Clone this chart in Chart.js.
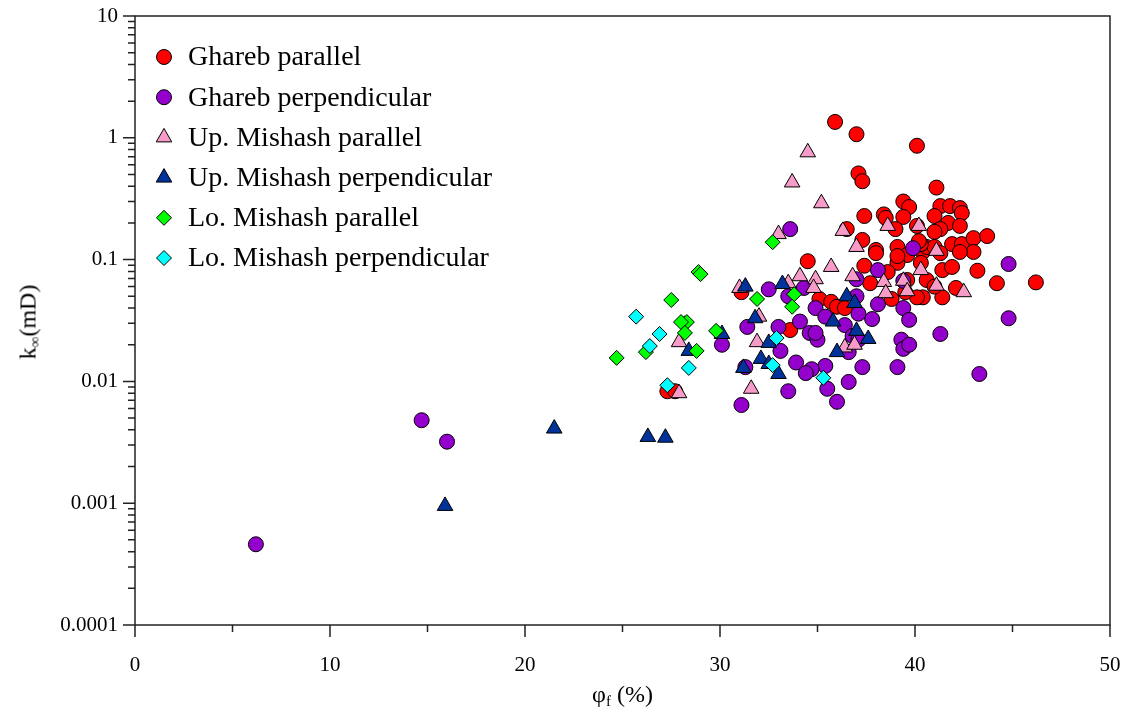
<!DOCTYPE html>
<html>
<head>
<meta charset="utf-8">
<title>Permeability vs fracture porosity</title>
<script src="https://cdn.jsdelivr.net/npm/chart.js@4.4.1/dist/chart.umd.min.js"></script>
<style>
  body { margin: 0; background: #fff; }
  #wrap { position: relative; width: 1129px; height: 717px; font-family: 'Liberation Serif', 'Times New Roman', serif; }
  .axis-title { position: absolute; font-size: 24px; color: #000; white-space: nowrap; line-height: 1; }
  .axis-title sub { font-size: 15px; vertical-align: -4px; }
  #x-title { left: 135px; width: 975px; top: 682px; text-align: center; }
  #y-title { left: 29px; top: 322px; transform: translate(-50%, -50%) rotate(-90deg); }
</style>
</head>
<body>
<div id="wrap">
  <canvas id="chart" width="1129" height="717"></canvas>
  <div class="axis-title" id="x-title">φ<sub>f</sub> (%)</div>
  <div class="axis-title" id="y-title">k<sub>∞</sub>(mD)</div>
</div>
<script>
// Axis ticks
const xTicks = [0, 10, 20, 30, 40, 50];
const xMinorTicks = [5, 15, 25, 35, 45];
const yTicks = [0.0001, 0.001, 0.01, 0.1, 1, 10];
const yTickLabels = ['0.0001', '0.001', '0.01', '0.1', '1', '10'];

// Measurements: [fracture porosity %, permeability mD]
const gharebParallel = [
    [35.9, 1.35], [37.0, 1.07], [40.1, 0.86], [37.1, 0.51], [37.3, 0.44], [41.1, 0.39],
    [39.4, 0.30], [39.7, 0.27], [39.4, 0.224], [37.4, 0.228], [38.4, 0.235], [38.5, 0.22],
    [41.3, 0.275], [41.8, 0.275], [42.3, 0.265], [42.4, 0.241], [41.0, 0.228], [41.7, 0.20],
    [42.3, 0.189], [41.3, 0.178], [41.0, 0.169], [36.5, 0.178], [39.0, 0.178], [40.1, 0.189],
    [37.3, 0.145], [38.0, 0.12], [38.0, 0.113], [39.1, 0.127], [39.6, 0.109], [39.1, 0.094],
    [40.4, 0.1155], [40.6, 0.127], [41.0, 0.127], [41.9, 0.134], [42.4, 0.134], [43.0, 0.150],
    [43.7, 0.156], [43.0, 0.1155], [42.3, 0.1155], [41.3, 0.113], [40.3, 0.094], [41.4, 0.082],
    [41.9, 0.087], [43.2, 0.081], [44.2, 0.064], [46.2, 0.065], [34.5, 0.097], [37.4, 0.089],
    [37.7, 0.064], [38.6, 0.079], [40.6, 0.068], [42.1, 0.0585], [41.4, 0.049], [40.4, 0.049],
    [40.1, 0.049], [38.8, 0.0475], [39.6, 0.068], [35.1, 0.0475], [35.7, 0.045], [36.0, 0.041],
    [36.4, 0.040], [33.6, 0.0264], [31.1, 0.054], [27.3, 0.0083], [27.7, 0.0083], [39.5, 0.054],
    [41.0, 0.060], [40.3, 0.134], [40.2, 0.142], [39.1, 0.107]
];
const gharebPerpendicular = [
    [6.2, 0.00046], [14.7, 0.0048], [16.0, 0.0032], [33.6, 0.178], [39.9, 0.124], [38.1, 0.082],
    [37.0, 0.069], [39.4, 0.067], [44.8, 0.092], [44.8, 0.033], [43.3, 0.0115], [39.4, 0.040],
    [39.7, 0.032], [38.1, 0.043], [37.8, 0.0325], [37.1, 0.036], [37.0, 0.050], [34.9, 0.040],
    [35.4, 0.034], [36.4, 0.029], [34.1, 0.031], [34.6, 0.025], [35.0, 0.022], [36.8, 0.0236],
    [37.1, 0.022], [36.6, 0.0174], [39.3, 0.022], [39.4, 0.0185], [41.3, 0.0245], [39.1, 0.0131],
    [37.3, 0.0131], [35.4, 0.0134], [33.9, 0.0143], [34.7, 0.0126], [34.4, 0.0117], [36.6, 0.0099],
    [35.5, 0.0087], [33.5, 0.0083], [36.0, 0.0068], [32.5, 0.057], [33.5, 0.050], [34.3, 0.0585],
    [33.0, 0.028], [31.4, 0.028], [30.1, 0.020], [33.1, 0.0178], [31.3, 0.0131], [31.1, 0.0064],
    [39.7, 0.020], [34.9, 0.025]
];
const upMishashParallel = [
    [34.5, 0.76], [33.7, 0.43], [35.2, 0.29], [33.0, 0.162], [36.3, 0.172], [37.0, 0.127],
    [35.7, 0.087], [38.6, 0.189], [40.2, 0.189], [41.1, 0.118], [34.1, 0.073], [34.9, 0.069],
    [36.8, 0.073], [40.3, 0.082], [38.4, 0.0655], [39.4, 0.067], [41.1, 0.061], [42.5, 0.054],
    [33.5, 0.064], [34.8, 0.0585], [39.6, 0.055], [38.5, 0.053], [31.0, 0.0585], [32.0, 0.034],
    [31.9, 0.021], [36.4, 0.019], [36.9, 0.020], [31.6, 0.0087], [27.9, 0.021], [27.9, 0.0080]
];
const upMishashPerpendicular = [
    [15.9, 0.00095], [21.5, 0.0041], [26.3, 0.0035], [27.2, 0.00345], [28.4, 0.0178], [30.1, 0.0245],
    [31.3, 0.060], [33.2, 0.063], [36.5, 0.050], [36.9, 0.044], [31.8, 0.033], [35.8, 0.031],
    [32.5, 0.0207], [37.0, 0.026], [37.6, 0.0223], [36.0, 0.0174], [32.1, 0.0153], [32.5, 0.0139],
    [31.2, 0.0129], [33.0, 0.0115]
];
const loMishashParallel = [
    [24.7, 0.0156], [26.2, 0.0174], [27.5, 0.0466], [28.2, 0.030], [28.3, 0.0307], [28.0, 0.0307],
    [28.2, 0.025], [28.8, 0.0178], [28.9, 0.079], [29.0, 0.076], [29.8, 0.026], [31.9, 0.0475],
    [33.8, 0.052], [33.7, 0.041], [32.7, 0.139]
];
const loMishashPerpendicular = [
    [25.7, 0.034], [26.9, 0.0245], [26.4, 0.0195], [28.4, 0.0129], [27.3, 0.0093], [32.9, 0.0227],
    [32.7, 0.0136], [35.3, 0.0107]
];

const serifFont = "'Liberation Serif', 'Times New Roman', serif";
const toPoints = pts => pts.map(([x, y]) => ({ x, y }));

// later series sit on top, so give them the lowest draw order
const series = [
    { label: 'Ghareb parallel', pts: gharebParallel, style: 'circle', radius: 7.5, color: '#ff0000' },
    { label: 'Ghareb perpendicular', pts: gharebPerpendicular, style: 'circle', radius: 7.5, color: '#9400cc' },
    { label: 'Up. Mishash parallel', pts: upMishashParallel, style: 'triangle', radius: 9, color: '#f79bc8' },
    { label: 'Up. Mishash perpendicular', pts: upMishashPerpendicular, style: 'triangle', radius: 9, color: '#003399' },
    { label: 'Lo. Mishash parallel', pts: loMishashParallel, style: 'rectRot', radius: 7.5, color: '#00ff00' },
    { label: 'Lo. Mishash perpendicular', pts: loMishashPerpendicular, style: 'rectRot', radius: 7.5, color: '#00ffff' }
];

const datasets = series.map((s, i) => ({
    label: s.label,
    data: toPoints(s.pts),
    pointStyle: s.style,
    pointRadius: s.radius,
    pointHoverRadius: s.radius,
    backgroundColor: s.color,
    borderColor: '#000',
    borderWidth: 1,
    order: series.length - i
}));

// Box around the plot plus major/minor tick marks
const framePlugin = {
    id: 'frame',
    beforeDatasetsDraw(chart) {
        const { ctx, chartArea: a, scales: { x, y } } = chart;
        ctx.save();
        ctx.strokeStyle = '#222';
        ctx.lineWidth = 1.5;
        ctx.strokeRect(a.left, a.top, a.right - a.left, a.bottom - a.top);
        ctx.beginPath();
        xTicks.forEach(v => {
            const px = x.getPixelForValue(v);
            ctx.moveTo(px, a.bottom); ctx.lineTo(px, a.bottom + 12);
        });
        xMinorTicks.forEach(v => {
            const px = x.getPixelForValue(v);
            ctx.moveTo(px, a.bottom); ctx.lineTo(px, a.bottom + 7);
        });
        yTicks.forEach((d, i) => {
            const py = y.getPixelForValue(d);
            ctx.moveTo(a.left - 12, py); ctx.lineTo(a.left, py);
            if (i === yTicks.length - 1) return;
            for (let m = 2; m <= 9; m++) {
                const pm = y.getPixelForValue(d * m);
                ctx.moveTo(a.left - 7, pm); ctx.lineTo(a.left, pm);
            }
        });
        ctx.stroke();
        ctx.restore();
    }
};

// Legend drawn inside the plot, one entry per line
const insideLegend = {
    id: 'insideLegend',
    afterDatasetsDraw(chart) {
        const { ctx } = chart;
        ctx.save();
        ctx.font = '28px ' + serifFont;
        ctx.textBaseline = 'middle';
        ctx.textAlign = 'left';
        chart.data.datasets.forEach((ds, i) => {
            const cy = 57 + i * 40.2;
            ctx.fillStyle = ds.backgroundColor;
            ctx.strokeStyle = ds.borderColor;
            ctx.lineWidth = 1;
            Chart.helpers.drawPoint(ctx, { pointStyle: ds.pointStyle, radius: ds.pointRadius, rotation: 0, borderWidth: 1 }, 164, cy);
            ctx.fillStyle = '#000';
            ctx.fillText(ds.label, 188, cy + 1);
        });
        ctx.restore();
    }
};

const tickFont = { family: serifFont, size: 21 };

new Chart(document.getElementById('chart'), {
    type: 'scatter',
    data: { datasets },
    options: {
        responsive: false,
        animation: false,
        devicePixelRatio: 1,
        layout: { padding: { top: 16, right: 19, left: 0, bottom: 0 } },
        plugins: { legend: { display: false }, tooltip: { enabled: false } },
        scales: {
            x: {
                type: 'linear',
                min: 0,
                max: 50,
                afterBuildTicks: s => { s.ticks = xTicks.map(v => ({ value: v })); },
                afterFit: s => { s.height = 92; s.paddingLeft = 0; s.paddingRight = 0; },
                grid: { display: false, drawTicks: false },
                border: { display: false },
                ticks: { font: tickFont, color: '#000', padding: 28, maxRotation: 0, autoSkip: false }
            },
            y: {
                type: 'logarithmic',
                min: 0.0001,
                max: 10,
                afterBuildTicks: s => { s.ticks = yTicks.map(v => ({ value: v })); },
                afterFit: s => { s.width = 135; s.paddingTop = 0; s.paddingBottom = 0; },
                grid: { display: false, drawTicks: false },
                border: { display: false },
                ticks: {
                    font: tickFont, color: '#000', padding: 17, autoSkip: false,
                    callback: (v, i) => yTickLabels[i]
                }
            }
        }
    },
    plugins: [framePlugin, insideLegend]
});
</script>
</body>
</html>
